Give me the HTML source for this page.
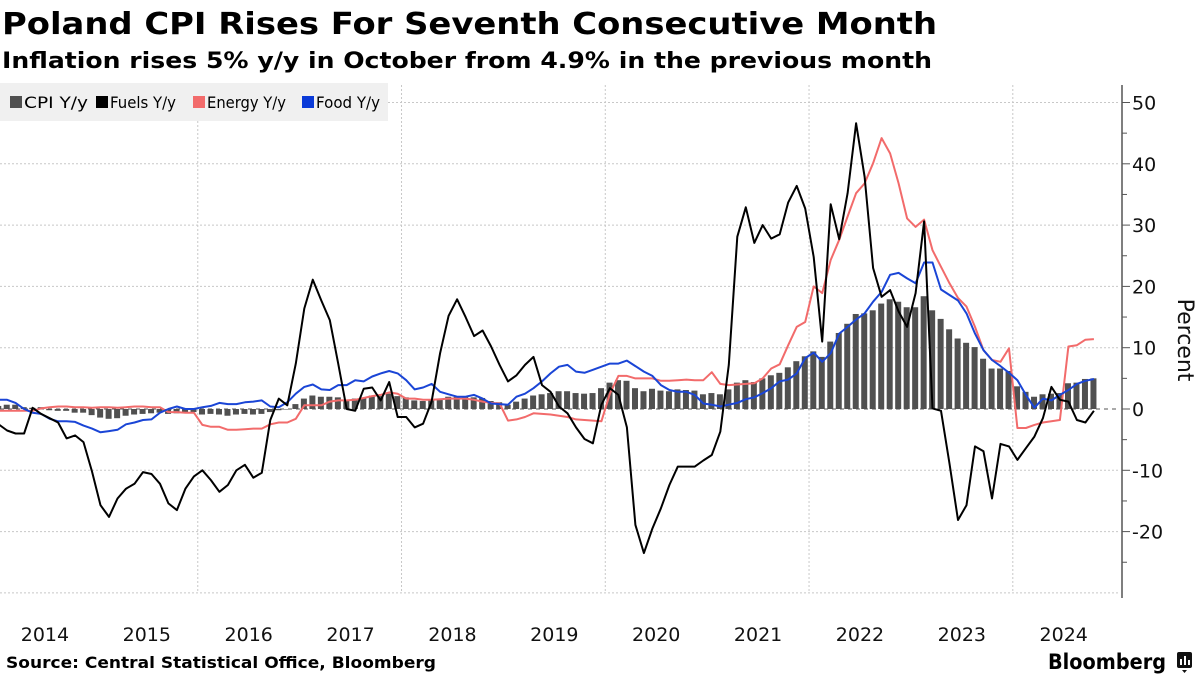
<!DOCTYPE html>
<html><head><meta charset="utf-8"><style>
html,body{margin:0;padding:0;background:#fff;}
svg{display:block;}
text{font-family:"DejaVu Sans","Liberation Sans",sans-serif;}
</style></head><body>
<svg id="chart" width="1200" height="675" viewBox="0 0 1200 675" xmlns="http://www.w3.org/2000/svg">
<text x="2" y="34" font-size="30" font-weight="bold" textLength="935" lengthAdjust="spacingAndGlyphs">Poland CPI Rises For Seventh Consecutive Month</text>
<text x="2" y="68" font-size="22" font-weight="bold" textLength="930" lengthAdjust="spacingAndGlyphs">Inflation rises 5% y/y in October from 4.9% in the previous month</text>
<g id="grid"></g>
<g id="bars"></g>
<g id="lines"></g>
<g id="axes"></g>
<g>
<rect x="0" y="83" width="388" height="38" fill="#f0f0f0"/>
<g><rect x="10" y="96" width="12" height="12" fill="#505050"/><text x="24" y="108" font-size="16" font-family="Liberation Sans" textLength="64" lengthAdjust="spacingAndGlyphs">CPI Y/y</text></g>
<g><rect x="96" y="96" width="12" height="12" fill="#000"/><text x="110" y="108" font-size="16" font-family="Liberation Sans" textLength="66" lengthAdjust="spacingAndGlyphs">Fuels Y/y</text></g>
<g><rect x="193" y="96" width="12" height="12" fill="#f26b6b"/><text x="207" y="108" font-size="16" font-family="Liberation Sans" textLength="79" lengthAdjust="spacingAndGlyphs">Energy Y/y</text></g>
<g><rect x="302" y="96" width="12" height="12" fill="#0a3ad8"/><text x="316" y="108" font-size="16" font-family="Liberation Sans" textLength="64" lengthAdjust="spacingAndGlyphs">Food Y/y</text></g>
</g>
<text x="6" y="668" font-size="16" font-weight="bold" textLength="430" lengthAdjust="spacingAndGlyphs">Source: Central Statistical Office, Bloomberg</text>
<text x="1048" y="669" font-size="21" font-weight="bold" font-family="Liberation Sans" textLength="118" lengthAdjust="spacingAndGlyphs">Bloomberg</text>
<g><rect x="1177" y="652" width="15" height="16" rx="2" fill="#111"/><path d="M1182 670 l2.5 3 l2.5 -3z" fill="#111"/><rect x="1180" y="659" width="2" height="6" fill="#fff"/><rect x="1184" y="656" width="2" height="9" fill="#fff"/><rect x="1188" y="660" width="2" height="5" fill="#fff"/></g>
</svg>
<script>
const cpi=[0.5,0.7,0.7,0.3,0.2,0.3,-0.2,-0.3,-0.3,-0.6,-0.6,-1.0,
-1.4,-1.6,-1.5,-1.1,-0.9,-0.8,-0.7,-0.6,-0.8,-0.7,-0.6,-0.5,
-0.9,-0.8,-0.9,-1.1,-0.9,-0.8,-0.9,-0.8,-0.5,-0.2,0.0,0.8,
1.7,2.2,2.0,2.0,1.9,1.5,1.7,1.8,2.2,2.1,2.5,2.1,
1.9,1.4,1.3,1.6,1.7,2.0,2.0,2.0,1.9,1.8,1.3,1.1,
0.7,1.2,1.7,2.2,2.4,2.6,2.9,2.9,2.6,2.5,2.6,3.4,
4.3,4.7,4.6,3.4,2.9,3.3,3.0,2.9,3.2,3.1,3.0,2.4,
2.6,2.4,3.2,4.3,4.7,4.4,5.0,5.5,5.9,6.8,7.8,8.6,
9.4,8.5,11.0,12.4,13.9,15.5,15.6,16.1,17.2,17.9,17.5,16.6,
16.6,18.4,16.1,14.7,13.0,11.5,10.8,10.1,8.2,6.6,6.6,6.2,
3.7,2.8,2.0,2.4,2.5,2.6,4.2,4.3,4.9,5.0];
const fuels=[-2.5,-3.5,-4,-4,0.2,-0.8,-1.5,-2.2,-4.8,-4.3,-5.4,-10.2,
-15.7,-17.6,-14.6,-13,-12.2,-10.3,-10.6,-12.2,-15.4,-16.5,-13,-11,
-10,-11.6,-13.5,-12.4,-10,-9.1,-11.2,-10.4,-1.8,1.7,0.6,7.4,
16.4,21.1,17.7,14.5,7.4,0,-0.3,3.3,3.5,1.4,4.4,-1.3,
-1.3,-3.0,-2.4,1.2,9.1,15.2,17.9,15,11.9,12.8,10.2,7.2,
4.5,5.5,7.2,8.5,3.9,2.8,0.4,-0.7,-3.0,-4.9,-5.6,0.7,
3.4,2.3,-3.0,-18.9,-23.5,-19.5,-16.2,-12.4,-9.4,-9.4,-9.4,-8.4,
-7.5,-3.7,7.2,28.1,32.9,27.1,30,27.8,28.5,33.7,36.4,32.7,
24.8,11,33.4,27.7,35.2,46.6,37.9,23,18.3,19.4,15.9,13.4,
18.9,30.6,0.1,-0.3,-8.9,-18.1,-15.7,-6.1,-6.9,-14.6,-5.7,-6.1,
-8.3,-6.4,-4.5,-1.5,3.6,1.5,1.2,-1.8,-2.2,-0.3];
const energy=[-0.3,-0.3,-0.3,-0.3,-0.3,0.1,0.3,0.4,0.4,0.3,0.3,0.2,
0.3,0.3,0.2,0.3,0.4,0.4,0.3,0.3,-0.5,-0.5,-0.6,-0.6,
-2.6,-2.9,-2.9,-3.4,-3.4,-3.3,-3.2,-3.2,-2.5,-2.2,-2.2,-1.6,
0.6,0.6,0.6,1.2,1.4,1.4,1.5,1.8,2.1,2.3,2.7,2.5,
1.7,1.7,1.5,1.5,1.6,1.7,1.7,1.7,1.5,1.2,1.0,0.9,
-1.9,-1.7,-1.3,-0.7,-0.8,-0.9,-1.1,-1.3,-1.7,-1.8,-1.9,-2.0,
2.5,5.4,5.4,5.0,5.0,5.0,4.6,4.6,4.7,4.8,4.7,4.7,
6.0,4.1,3.9,4.0,4.1,4.2,5.0,6.6,7.3,10.4,13.4,14.2,
20,18.9,24.3,27.6,31.4,35.2,36.8,40.1,44.2,41.7,36.8,31.1,
29.7,30.9,25.9,23.2,20.5,18.1,16.7,13.4,9.6,8.0,7.7,9.9,
-3.1,-3.1,-2.6,-2.2,-2.0,-1.8,10.2,10.4,11.3,11.4];
const food=[1.5,1.5,1.0,0,-0.6,-0.8,-1.6,-2.0,-2.0,-2.1,-2.7,-3.2,
-3.8,-3.6,-3.4,-2.5,-2.2,-1.8,-1.7,-0.6,0,0.4,0,0,
0.3,0.5,1.0,0.8,0.8,1.1,1.2,1.4,0.4,0.3,1.1,2.5,
3.6,4.0,3.2,3.1,3.9,3.9,4.7,4.5,5.3,5.8,6.2,5.8,
4.7,3.2,3.5,4.1,2.8,2.4,2.0,2.0,2.3,1.7,0.9,0.8,
0.7,2.0,2.5,3.4,4.5,5.8,6.9,7.2,6.1,5.9,6.4,6.9,
7.4,7.4,7.9,7.0,6.1,5.4,3.9,3.1,2.8,2.8,2.3,0.9,
0.7,0.4,0.7,1.0,1.6,1.9,2.6,3.4,4.5,4.8,5.8,8.3,
9.2,7.7,9.1,12.3,13.4,14.6,15.6,17.5,19.1,21.9,22.2,21.3,
20.5,23.9,23.9,19.5,18.6,17.7,15.6,12.3,9.6,8.0,7.0,5.9,
4.7,2.3,0.2,1.7,1.4,2.3,3.1,4.1,4.6,4.9];
const yTicks=[50,40,30,20,10,0,-10,-20];
const yearLabels=["2014","2015","2016","2017","2018","2019","2020","2021","2022","2023","2024"];

const NS="http://www.w3.org/2000/svg";
const MONTH=8.49, X0=-6, PLOT_R=1120, PLOT_T=85, PLOT_B=593;
function xScale(i){return X0+(i+0.5)*MONTH;}
function yScale(v){return 409-v*6.13;}
function mk(tag,attrs,parent){const e=document.createElementNS(NS,tag);for(const k in attrs)e.setAttribute(k,attrs[k]);parent.appendChild(e);return e;}
const grid=document.getElementById('grid'),bars=document.getElementById('bars'),lines=document.getElementById('lines'),axes=document.getElementById('axes');

yTicks.forEach(v=>{
  const l=mk('line',{x1:0,x2:PLOT_R,y1:yScale(v),y2:yScale(v),stroke:v===0?'#555':'#c8c8c8','stroke-width':1,'stroke-dasharray':v===0?'4,4':'2,2'},grid);
  
  
});
mk('line',{x1:0,x2:PLOT_R,y1:yScale(-30),y2:yScale(-30),stroke:'#c8c8c8','stroke-dasharray':'2,2'},grid);
for(let y=2;y<=10;y+=2){
  const gx=X0+y*12*MONTH;
  const l=mk('line',{x1:gx,x2:gx,y1:PLOT_T,y2:PLOT_B,stroke:'#c8c8c8','stroke-dasharray':'2,2'},grid);
  
  
}
cpi.forEach((v,i)=>{
  const y0=yScale(0),y1=yScale(v);
  const r=mk('rect',{x:xScale(i)-3,y:Math.min(y0,y1),width:6,height:Math.max(0.5,Math.abs(y1-y0)),fill:'#505050'},bars);
  
  
});
function drawLine(arr,color,name){
  const d=arr.map((v,i)=>(i?'L':'M')+(xScale(i)+0.4).toFixed(1)+' '+yScale(v).toFixed(1)).join(' ');
  const p=mk('path',{d:d,fill:'none',stroke:color,'stroke-width':2,'stroke-linejoin':'round'},lines);
  
  
}
drawLine(energy,'#f26b6b','energy-line');
drawLine(food,'#1a45d6','food-line');
drawLine(fuels,'#000','fuels-line');

mk('line',{x1:1122,x2:1122,y1:PLOT_T,y2:598,stroke:'#555','stroke-width':1.5},axes);
for(let v=-25;v<=50;v+=5){
  const major=v%10===0;
  mk('line',{x1:1122,x2:major?1130:1127,y1:yScale(v),y2:yScale(v),stroke:'#555'},axes);
}
yTicks.forEach(v=>{
  const t=mk('text',{x:1132,y:yScale(v)+7,'font-size':19,fill:'#111','font-family':'DejaVu Sans'},axes);
  t.textContent=(v<0?'-':'')+Math.abs(v);
  
  
});
const pt=mk('text',{x:0,y:0,'font-size':22,fill:'#111',transform:'translate(1178,340) rotate(90)','text-anchor':'middle','font-family':'DejaVu Sans'},axes);
pt.textContent='Percent';


yearLabels.forEach((lab,k)=>{
  const t=mk('text',{x:X0+(k+0.5)*12*MONTH,y:641,'font-size':19,'text-anchor':'middle',fill:'#111','font-family':'DejaVu Sans'},axes);
  t.textContent=lab;
  
  
});
</script>
</body></html>
